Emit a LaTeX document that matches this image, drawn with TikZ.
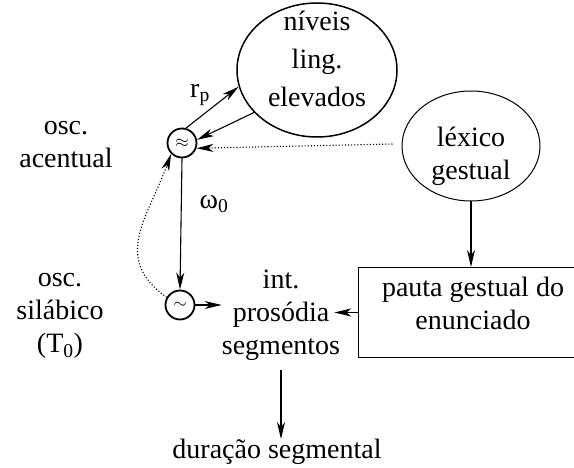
\documentclass[tikz,border=0pt]{standalone}
\usepackage{fontspec}
\setmainfont{Liberation Serif}
\usetikzlibrary{arrows.meta,shapes.geometric}
\tikzset{
  seta/.style={-{Stealth[length=17pt,width=8pt,inset=5pt]}, line width=1.1pt},
  osc/.style={circle, draw, line width=1.8pt, minimum size=29pt, inner sep=0pt},
  texto/.style={align=center, font=\fontsize{28}{33}\selectfont, inner sep=0pt},
}
\begin{document}
\begin{tikzpicture}[x=1pt,y=-1pt]
\useasboundingbox (0,0) rectangle (574,468);
% Osciladores
\node[osc] (acc) at (182,143) {\fontsize{18}{18}\selectfont$\approx$};
\node[osc] (sil) at (180,305) {\fontsize{18}{18}\selectfont$\sim$};
\node[texto] (oscA) at (66,145) {osc.\\acentual};
\node[texto] (oscS) at (60,316) {osc.\\silábico\\(T\textsubscript{0})};
% Elipses
\node[ellipse, draw, line width=1.5pt, minimum width=160pt, minimum height=134pt] (niv) at (317,70) {};
\node[texto] (nivtxt) at (317,59) {níveis\\[5pt]ling.\\[5pt]elevados};
\node[ellipse, draw, line width=1pt, minimum width=138pt, minimum height=110pt] (lex) at (471,146) {};
\node[texto] (lextxt) at (471,156) {léxico\\gestual};
% Caixa (cortada a direita)
\node[draw, line width=1pt, minimum width=230pt, minimum height=90pt, inner sep=0pt, anchor=north west] (pauta) at (358,267) {};
\node[texto] (pautatxt) at (473,303) {pauta gestual do\\enunciado};
% Textos
\node[texto] (int) at (281,315) {int.\\prosódia\\segmentos};
\node[texto] (dur) at (277,452) {duração segmental};
\node[texto, anchor=south west] (rp) at (190,106) {r\textsubscript{p}};
\node[texto] (om) at (214,204) {ω\textsubscript{0}};
% Setas
\draw[seta] (acc.75) -- (niv.192);
\draw[seta] (niv.214) -- (acc.12);
\draw[seta, dotted] ([xshift=-9pt,yshift=2pt]lex.west) -- (acc.-20);
\draw[seta] (acc.south) -- (sil.north);
\draw[seta, dotted] (sil.150) to[out=145,in=250,looseness=1.2] (acc.225);
\draw[seta] (sil.east) -- (sil.east -| int.west);
\draw[seta] (pauta.west) -- ([xshift=-6pt]pauta.west -| int.east);
\draw[seta] (lex.south) -- (lex.south |- pauta.north);
\draw[seta, shorten <=10pt] (int.south) -- (int.south |- dur.north);
\end{tikzpicture}
\end{document}
